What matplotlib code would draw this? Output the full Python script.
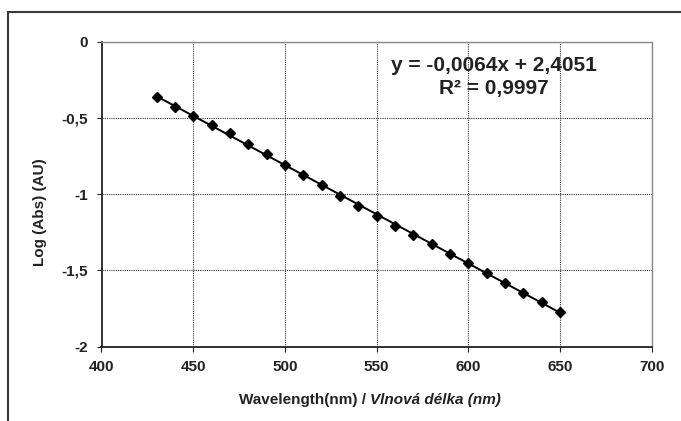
import matplotlib
matplotlib.use("Agg")
import matplotlib.pyplot as plt
import numpy as np
from matplotlib.patches import Rectangle

plt.rcParams['font.family'] = ['Liberation Sans', 'DejaVu Sans']

wavelength = [430, 440, 450, 460, 470, 480, 490, 500, 510, 520, 530, 540,
              550, 560, 570, 580, 590, 600, 610, 620, 630, 640, 650]
log_abs = [-0.363, -0.426, -0.486, -0.547, -0.601, -0.671, -0.739, -0.807,
           -0.877, -0.942, -1.010, -1.076, -1.142, -1.207, -1.268, -1.330,
           -1.391, -1.452, -1.516, -1.581, -1.647, -1.708, -1.774]
x_ticks = [400, 450, 500, 550, 600, 650, 700]
y_ticks = [0, -0.5, -1, -1.5, -2]
y_tick_labels = ['0', '-0,5', '-1', '-1,5', '-2']
equation = "y = -0,0064x + 2,4051"
r2_text = "R² = 0,9997"

W, H = 681, 421
fig = plt.figure(figsize=(W / 100, H / 100), dpi=100)

# outer chart frame (cropped at right and bottom)
fig.patches.append(Rectangle((7.5 / W, -0.1), 1.2, (H - 12) / H + 0.1,
                             transform=fig.transFigure, fill=False,
                             edgecolor='#3a3a3a', linewidth=1.5))

left, right, top, bottom = 101.5, 651.7, 41.7, 346.5
ax = fig.add_axes([left / W, 1 - bottom / H, (right - left) / W, (bottom - top) / H])

x = np.array(wavelength)
y = np.array(log_abs)
coef = np.polyfit(x, y, 1)
xf = np.array([x.min(), x.max()])
ax.plot(xf, np.polyval(coef, xf), color='black', linewidth=1.4, zorder=3)
ax.plot(x, y, linestyle='none', marker='D', markersize=5.5, color='black', zorder=4)

ax.set_xlim(400, 700)
ax.set_ylim(-2, 0)
ax.set_xticks(x_ticks)
ax.set_xticklabels([str(v) for v in x_ticks])
ax.set_yticks(y_ticks)
ax.set_yticklabels(y_tick_labels)

ax.grid(True, color='#333333', linestyle=(0, (1, 1)), linewidth=0.8)
for s in ['top', 'right']:
    ax.spines[s].set_color('#888888')
    ax.spines[s].set_linestyle((0, (1, 1)))
    ax.spines[s].set_linewidth(1.0)
for s in ['left', 'bottom']:
    ax.spines[s].set_color('#222222')
    ax.spines[s].set_linewidth(1.3)

ax.tick_params(axis='both', direction='out', length=3.5, width=0.8, color='#222222',
               labelsize=11, pad=6)
for lab in ax.get_xticklabels() + ax.get_yticklabels():
    lab.set_fontweight('bold')
    lab.set_color('#222222')

# trendline annotation (placed in axes-fraction coordinates)
ax.text((493.5 - left) / (right - left), 1 - (71 - top) / (bottom - top), equation,
        transform=ax.transAxes, ha='center', va='baseline', fontsize=15,
        fontweight='bold', color='#222222')
ax.text((494 - left) / (right - left), 1 - (94 - top) / (bottom - top), r2_text,
        transform=ax.transAxes, ha='center', va='baseline', fontsize=15,
        fontweight='bold', color='#222222')

# axis labels
fig.text(370 / W, 1 - 400 / H, "Wavelength(nm) / ", ha='right', va='center',
         fontsize=11, fontweight='bold', color='#222222')
fig.text(370 / W, 1 - 400 / H, "Vlnová délka (nm)", ha='left', va='center',
         fontsize=11, fontweight='bold', style='italic', color='#222222')
fig.text(40 / W, 1 - 212 / H, "Log (Abs) (AU)", ha='center', va='center',
         rotation=90, fontsize=11, fontweight='bold', color='#222222')

fig.savefig('out.png', dpi=100)
